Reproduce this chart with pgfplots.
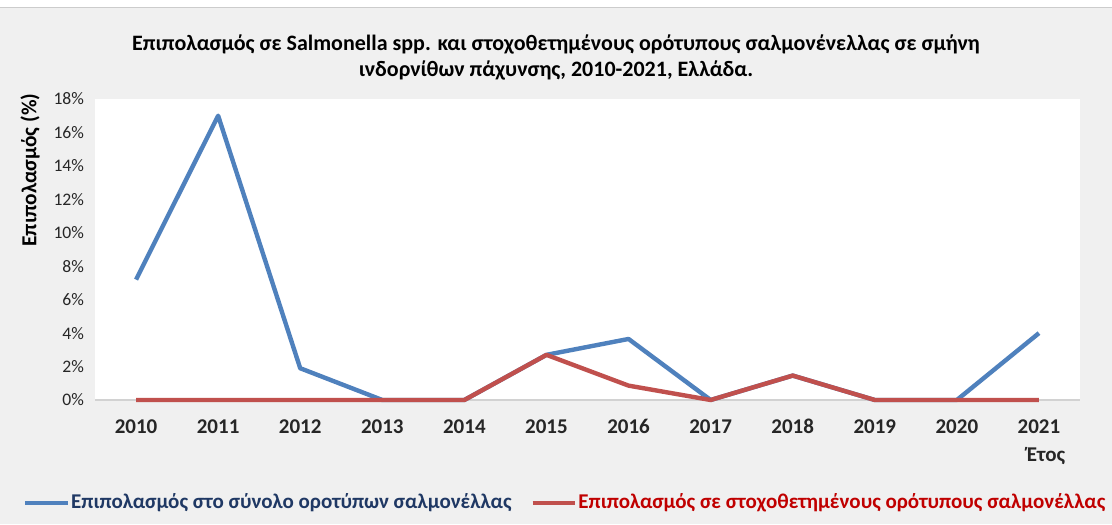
\documentclass[border=0pt]{standalone}
\usepackage{pgfplots}
\pgfplotsset{compat=1.18}
\usepackage{fontspec}
\setmainfont{Carlito}
\definecolor{bgc}{HTML}{F0F0F0}
\definecolor{bluel}{HTML}{4F81BD}
\definecolor{redl}{HTML}{C0504D}
\definecolor{navy}{HTML}{1F3864}
\definecolor{darkred}{HTML}{C00000}
\definecolor{txt}{HTML}{262626}
\begin{document}
\begin{tikzpicture}[x=1pt,y=1pt]
\fill[bgc] (0,0) rectangle (556,262);
\useasboundingbox (0,0) rectangle (556,262);
\fill[white] (0,258.5) rectangle (556,262);
\draw[gray!40,line width=0.6pt] (0,258.3) -- (556,258.3);
\node[font=\fontsize{11}{13}\selectfont\bfseries, align=center, text=black] at (278,233.5)
 {Επιπολασμός σε Salmonella spp. και στοχοθετημένους ορότυπους σαλμονένελλας σε σμήνη\\ ινδορνίθων πάχυνσης, 2010-2021, Ελλάδα.};
\node[font=\fontsize{10.7}{12}\selectfont\bfseries, rotate=90, text=black] at (15,177) {Επιπολασμός (\%)};
\node[font=\fontsize{10.5}{12}\selectfont\bfseries, text=txt] at (523,34) {Έτος};
\begin{axis}[
  at={(47.5pt,62pt)}, anchor=south west,
  scale only axis, width=492.5pt, height=150.5pt,
  xmin=-0.5, xmax=11.5, ymin=0, ymax=18,
  axis background/.style={fill=white},
  axis line style={draw=none},
  ytick={0,2,...,18},
  yticklabel={\pgfmathprintnumber{\tick}\%},
  xtick={0,...,11},
  xticklabels={2010,2011,2012,2013,2014,2015,2016,2017,2018,2019,2020,2021},
  major tick length=0pt,
  /pgf/number format/assume math mode=true,
  x tick label style={font=\fontsize{10.5}{12}\selectfont\bfseries, text=txt, yshift=-5.5pt, text height=7.5pt, text depth=0pt},
  y tick label style={font=\fontsize{8.8}{10}\selectfont, text=txt, xshift=-2pt},
  clip=false,
  legend columns=2,
  legend style={at={(0.477,-0.342)}, anchor=center, draw=none, fill=none,
     font=\fontsize{10.5}{12}\selectfont\bfseries,
     nodes={inner xsep=0.5pt},
     /tikz/every even column/.append style={column sep=9pt}},
  legend image code/.code={\draw[#1, line width=2pt] (-0.75cm,0cm) -- (0cm,0cm);},
]
\draw[gray!35, line width=0.6pt] (axis cs:-0.5,0) -- (axis cs:11.5,0);
\addplot[bluel, line width=2.2pt, line join=round] coordinates {
 (0,7.2) (1,17.0) (2,1.9) (3,0) (4,0) (5,2.7) (6,3.65) (7,0) (8,1.46) (9,0) (10,0) (11,4.0)};
\addlegendentry{\textcolor{navy}{Επιπολασμός στο σύνολο οροτύπων σαλμονέλλας}}
\addplot[redl, line width=2.2pt, line join=round] coordinates {
 (0,0) (1,0) (2,0) (3,0) (4,0) (5,2.7) (6,0.86) (7,0) (8,1.46) (9,0) (10,0) (11,0)};
\addlegendentry{\textcolor{darkred}{Επιπολασμός σε στοχοθετημένους ορότυπους σαλμονέλλας}}
\end{axis}
\end{tikzpicture}
\end{document}
